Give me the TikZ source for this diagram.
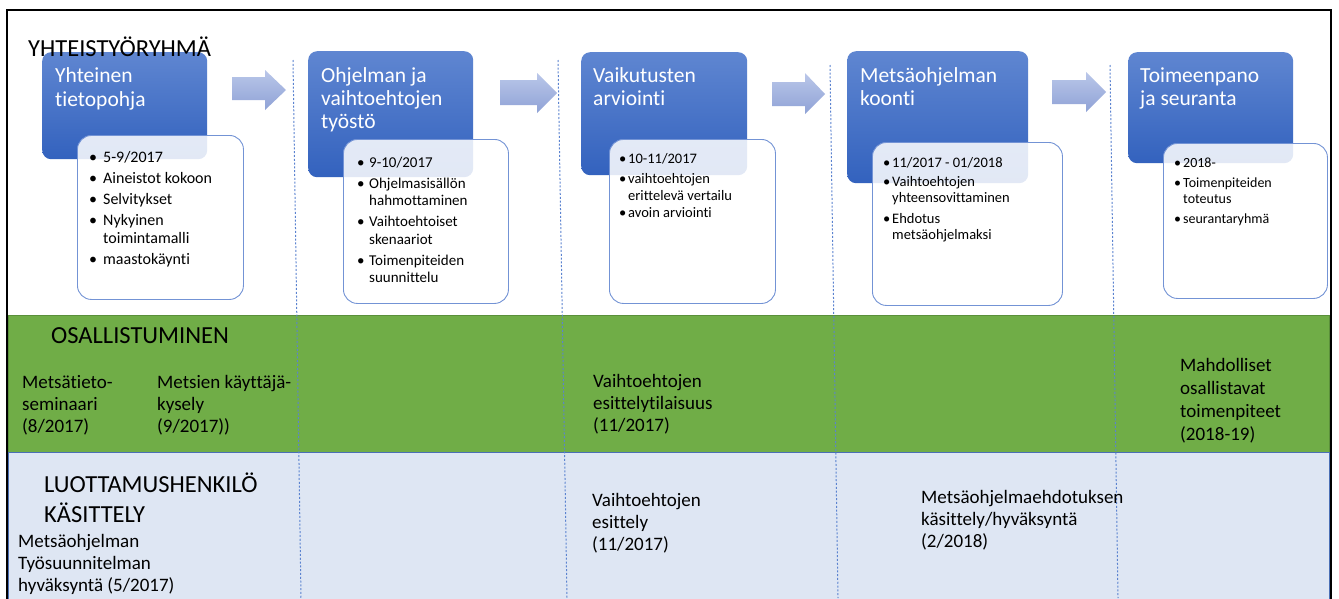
\documentclass[tikz,border=0pt]{standalone}
\usepackage{fontspec}
\setmainfont{Carlito}[Ligatures=NoCommon]
\definecolor{hdrtop}{HTML}{5F86D1}
\definecolor{hdrbot}{HTML}{3362BE}
\definecolor{arrtop}{HTML}{BAC7E9}
\definecolor{arrbot}{HTML}{8FA2D6}
\definecolor{detline}{HTML}{7393D5}
\definecolor{sepblue}{HTML}{5B83D0}
\definecolor{bandgreen}{HTML}{70AD47}
\definecolor{greenline}{HTML}{5A8F3A}
\definecolor{bandblue}{HTML}{DEE6F3}
\definecolor{bandline}{HTML}{4A6FB5}
\newcommand{\bt}[2]{\makebox[#1pt][l]{\textbullet}#2}
\newcommand{\ct}[2]{\hspace*{#1pt}#2}
\tikzset{
  hdrbox/.style={rectangle, rounded corners=9pt, top color=hdrtop, bottom color=hdrbot, draw=none, inner sep=0pt, anchor=north west},
  detbox/.style={rectangle, rounded corners=14pt, draw=detline, line width=0.9pt, fill=white, fill opacity=0.86, inner sep=0pt, anchor=north west},
  arrshape/.style={top color=arrtop, bottom color=arrbot, draw=none},
  sepline/.style={draw=sepblue, line width=1pt, dash pattern=on 2pt off 1.8pt},
  htxt/.style={text=white, font=\fontsize{21.5}{23.5}\selectfont, anchor=base west, inner sep=0pt, align=left},
  btxt/.style={text=black, anchor=base west, inner sep=0pt, align=left},
  bigtxt/.style={text=black, font=\fontsize{24.5}{30}\selectfont, anchor=base west, inner sep=0pt, align=left},
  lanetxt/.style={text=black, font=\fontsize{19}{22}\selectfont, anchor=base west, inner sep=0pt, align=left},
}
\begin{document}
\begin{tikzpicture}[x=1pt,y=-1pt]
\useasboundingbox (0,0) rectangle (1339,598);
% bands
\fill[white] (7,10) rectangle (1331,610);
\filldraw[fill=bandgreen, draw=greenline, line width=0.6pt] (8,315) rectangle (1329,452);
\filldraw[fill=bandblue, draw=bandline, line width=0.8pt] (8,452) rectangle (1329,612);
\draw[black, line width=2pt] (7,10) rectangle (1331,620);
% separators
\coordinate (s1t) at (293,60); \coordinate (s1b) at (301,598);
\coordinate (s2t) at (558,60); \coordinate (s2b) at (567,598);
\coordinate (s3t) at (830,65); \coordinate (s3b) at (838,598);
\coordinate (s4t) at (1110,65); \coordinate (s4b) at (1118,598);
\draw[sepline] (s1t) -- (s1b);
\draw[sepline] (s2t) -- (s2b);
\draw[sepline] (s3t) -- (s3b);
\draw[sepline] (s4t) -- (s4b);
% header boxes
\node[hdrbox, minimum width=165pt, minimum height=107pt] (h1) at (42,52) {};
\node[hdrbox, minimum width=165pt, minimum height=126pt] (h2) at (308,51) {};
\node[hdrbox, minimum width=166pt, minimum height=123pt] (h3) at (581,52) {};
\node[hdrbox, minimum width=181pt, minimum height=132pt] (h4) at (847,51) {};
\node[hdrbox, minimum width=165pt, minimum height=111pt] (h5) at (1128,52) {};
% arrows
\shade[arrshape] (232,77) -- (265,77) -- (265,70) -- (286,90) -- (265,110) -- (265,100) -- (232,100) -- cycle;
\shade[arrshape] (500,80) -- (537,80) -- (537,73) -- (557,93) -- (537,113) -- (537,105) -- (500,105) -- cycle;
\shade[arrshape] (772,82) -- (805,82) -- (805,73) -- (825,94) -- (805,114) -- (805,106) -- (772,106) -- cycle;
\shade[arrshape] (1052,80) -- (1086,80) -- (1086,72) -- (1106,92) -- (1086,112) -- (1086,104) -- (1052,104) -- cycle;
% detail boxes
\node[detbox, minimum width=166pt, minimum height=164pt] (d1) at (77,135) {};
\node[detbox, minimum width=165pt, minimum height=164pt] (d2) at (343,139) {};
\node[detbox, minimum width=166pt, minimum height=164pt] (d3) at (609,139) {};
\node[detbox, minimum width=190pt, minimum height=163pt] (d4) at (872,142) {};
\node[detbox, minimum width=164pt, minimum height=155pt] (d5) at (1163,143) {};
% header texts (anchored at the baseline of the last line)
\node[htxt] (t1) at (55,106) {Yhteinen\\[0.5pt]tietopohja};
\node[htxt, font=\fontsize{21.5}{23}\selectfont] (t2) at (321,128) {Ohjelman ja\\vaihtoehtojen\\työstö};
\node[htxt] (t3) at (593,105.5) {Vaikutusten\\arviointi};
\node[htxt] (t4) at (860,105.5) {Metsäohjelman\\koonti};
\node[htxt] (t5) at (1140,105.5) {Toimeenpano\\ja seuranta};
% bullet texts
\node[btxt, font=\fontsize{16}{18}\selectfont] (b1) at (89,264) {\bt{14}{5-9/2017}\\[3pt]\bt{14}{Aineistot kokoon}\\[3pt]\bt{14}{Selvitykset}\\[3pt]\bt{14}{Nykyinen}\\\ct{14}{toimintamalli}\\[3pt]\bt{14}{maastokäynti}};
\node[btxt, font=\fontsize{15}{17.5}\selectfont] (b2) at (357,282.5) {\bt{12}{9-10/2017}\\[3.5pt]\bt{12}{Ohjelmasisällön}\\\ct{12}{hahmottaminen}\\[3.5pt]\bt{12}{Vaihtoehtoiset}\\\ct{12}{skenaariot}\\[3.5pt]\bt{12}{Toimenpiteiden}\\\ct{12}{suunnittelu}};
\node[btxt, font=\fontsize{14.5}{17}\selectfont] (b3) at (619,217) {\bt{9}{10-11/2017}\\[3pt]\bt{9}{vaihtoehtojen}\\\ct{9}{erittelevä vertailu}\\\bt{9}{avoin arviointi}};
\node[btxt, font=\fontsize{14.5}{16}\selectfont] (b4) at (883,239) {\bt{9}{11/2017 - 01/2018}\\[3pt]\bt{9}{Vaihtoehtojen}\\\ct{9}{yhteensovittaminen}\\[5pt]\bt{9}{Ehdotus}\\\ct{9}{metsäohjelmaksi}};
\node[btxt, font=\fontsize{14}{16}\selectfont] (b5) at (1174,223) {\bt{9}{2018-}\\[4pt]\bt{9}{Toimenpiteiden}\\\ct{9}{toteutus}\\[4pt]\bt{9}{seurantaryhmä}};
% lane titles
\node[bigtxt] (yht) at (28,56) {YHTEISTYÖRYHMÄ};
\node[bigtxt] (osa) at (51,343) {OSALLISTUMINEN};
\node[bigtxt] (luo) at (44,522) {LUOTTAMUSHENKILÖ\\KÄSITTELY};
% lane texts
\node[lanetxt] (m1) at (22,432) {Metsätieto-\\seminaari\\(8/2017)};
\node[lanetxt] (m2) at (157,432) {Metsien käyttäjä-\\kysely\\(9/2017))};
\node[lanetxt] (m3) at (593,431) {Vaihtoehtojen\\esittelytilaisuus\\(11/2017)};
\node[lanetxt, font=\fontsize{19}{22.7}\selectfont] (m4) at (1180,440) {Mahdolliset\\osallistavat\\toimenpiteet\\(2018-19)};
\node[lanetxt] (l1) at (18,591) {Metsäohjelman\\Työsuunnitelman\\hyväksyntä (5/2017)};
\node[lanetxt] (l2) at (592,550) {Vaihtoehtojen\\esittely\\(11/2017)};
\node[lanetxt] (l3) at (921,547) {Metsäohjelmaehdotuksen\\käsittely/hyväksyntä\\(2/2018)};
\end{tikzpicture}
\end{document}
